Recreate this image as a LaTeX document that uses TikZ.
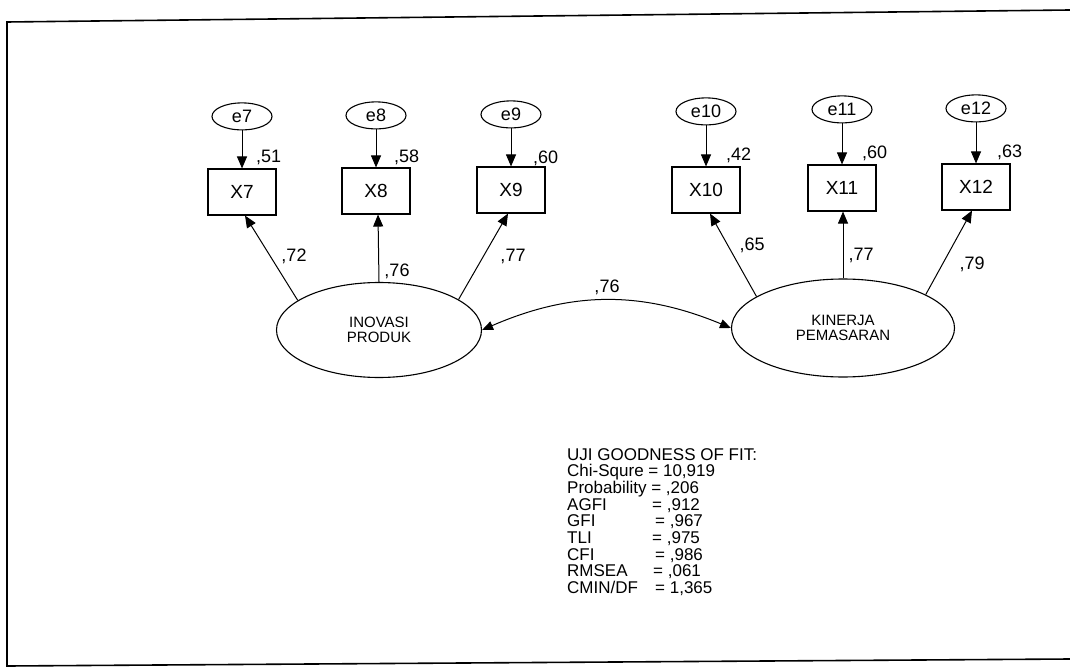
\documentclass[tikz,border=0pt]{standalone}
\usepackage{fontspec}
\setmainfont{Liberation Sans}
\usetikzlibrary{positioning,arrows.meta,shapes.geometric}
\begin{document}
\begin{tikzpicture}[x=1pt,y=-1pt,node distance=38pt,
ind/.style={draw,line width=1.1pt,minimum width=68pt,minimum height=46pt,inner sep=0pt,font=\fontsize{19}{19}\selectfont},
err/.style={draw,ellipse,line width=1.1pt,minimum width=60pt,minimum height=27pt,inner sep=0pt,font=\fontsize{18}{18}\selectfont},
lat/.style={draw,ellipse,line width=1.1pt,inner sep=0pt,align=center,font=\fontsize{15}{15}\selectfont},
lbl/.style={inner sep=0pt,font=\fontsize{18}{18}\selectfont},
arr/.style={-{Triangle[length=12pt,width=10pt]},line width=1pt},
cov/.style={{Triangle[length=11pt,width=9pt]}-{Triangle[length=11pt,width=9pt]},line width=1pt}]
\useasboundingbox (0,0) rectangle (1070,668);
\draw[line width=1.6pt] (1070,10) -- (7,22) -- (7,666) -- (1070,659);
\node[ind] (X7) at (242,192) {X7};
\node[ind] (X8) at (376,191) {X8};
\node[ind] (X9) at (511,190) {X9};
\node[ind] (X10) at (706,190) {X10};
\node[ind] (X11) at (842,188) {X11};
\node[ind] (X12) at (976,187) {X12};
\node[err,above=of X7] (e7) {e7};
\node[err,above=of X8] (e8) {e8};
\node[err,above=of X9] (e9) {e9};
\node[err,above=41pt of X10] (e10) {e10};
\node[err,above=41pt of X11] (e11) {e11};
\node[err,above=41pt of X12] (e12) {e12};
\node[lat,minimum width=205pt,minimum height=95pt] (inov) at (379,330) {INOVASI\\PRODUK};
\node[lat,minimum width=223pt,minimum height=98pt] (kin) at (843,328) {KINERJA\\PEMASARAN};
\draw[arr] (e7) -- (X7);
\draw[arr] (e8) -- (X8);
\draw[arr] (e9) -- (X9);
\draw[arr] (e10) -- (X10);
\draw[arr] (e11) -- (X11);
\draw[arr] (e12) -- (X12);
\node[lbl,anchor=base west] at ([xshift=14pt,yshift=6pt]X7.north) {,51};
\node[lbl,anchor=base west] at ([xshift=18pt,yshift=5pt]X8.north) {,58};
\node[lbl,anchor=base west] at ([xshift=22pt,yshift=3pt]X9.north) {,60};
\node[lbl,anchor=base west] at ([xshift=20pt,yshift=6pt]X10.north) {,42};
\node[lbl,anchor=base west] at ([xshift=20pt,yshift=6pt]X11.north) {,60};
\node[lbl,anchor=base west] at ([xshift=21pt,yshift=6pt]X12.north) {,63};
\draw[arr] (inov.160) -- ([xshift=3pt]X7.south);
\draw[arr] (inov.90) -- ([xshift=2pt]X8.south);
\draw[arr] (inov.21) -- ([xshift=-3pt]X9.south);
\draw[arr] (kin.160) -- ([xshift=4pt]X10.south);
\draw[arr] (kin.90) -- ([xshift=1pt]X11.south);
\draw[arr] (kin.22) -- ([xshift=-4pt]X12.south);
\node[lbl] at (294,256) {,72};
\node[lbl] at (397,271) {,76};
\node[lbl] at (513,256) {,77};
\node[lbl] at (752,245) {,65};
\node[lbl] at (861,255) {,77};
\node[lbl] at (972,264) {,79};
\draw[cov] (inov.east) to[bend left=23] (kin.west);
\node[lbl] at (607,287) {,76};
\node[anchor=north west,inner sep=0pt,align=left,font=\fontsize{17}{16.7}\selectfont] (fit) at (567,448) {UJI GOODNESS OF FIT:\\
Chi-Squre = 10,919\\
Probability = ,206\\
\makebox[85pt][l]{AGFI}= ,912\\
\makebox[88pt][l]{GFI}= ,967\\
\makebox[85pt][l]{TLI}= ,975\\
\makebox[88pt][l]{CFI}= ,986\\
\makebox[86pt][l]{RMSEA}= ,061\\
\makebox[88pt][l]{CMIN/DF}= 1,365};
\end{tikzpicture}
\end{document}
